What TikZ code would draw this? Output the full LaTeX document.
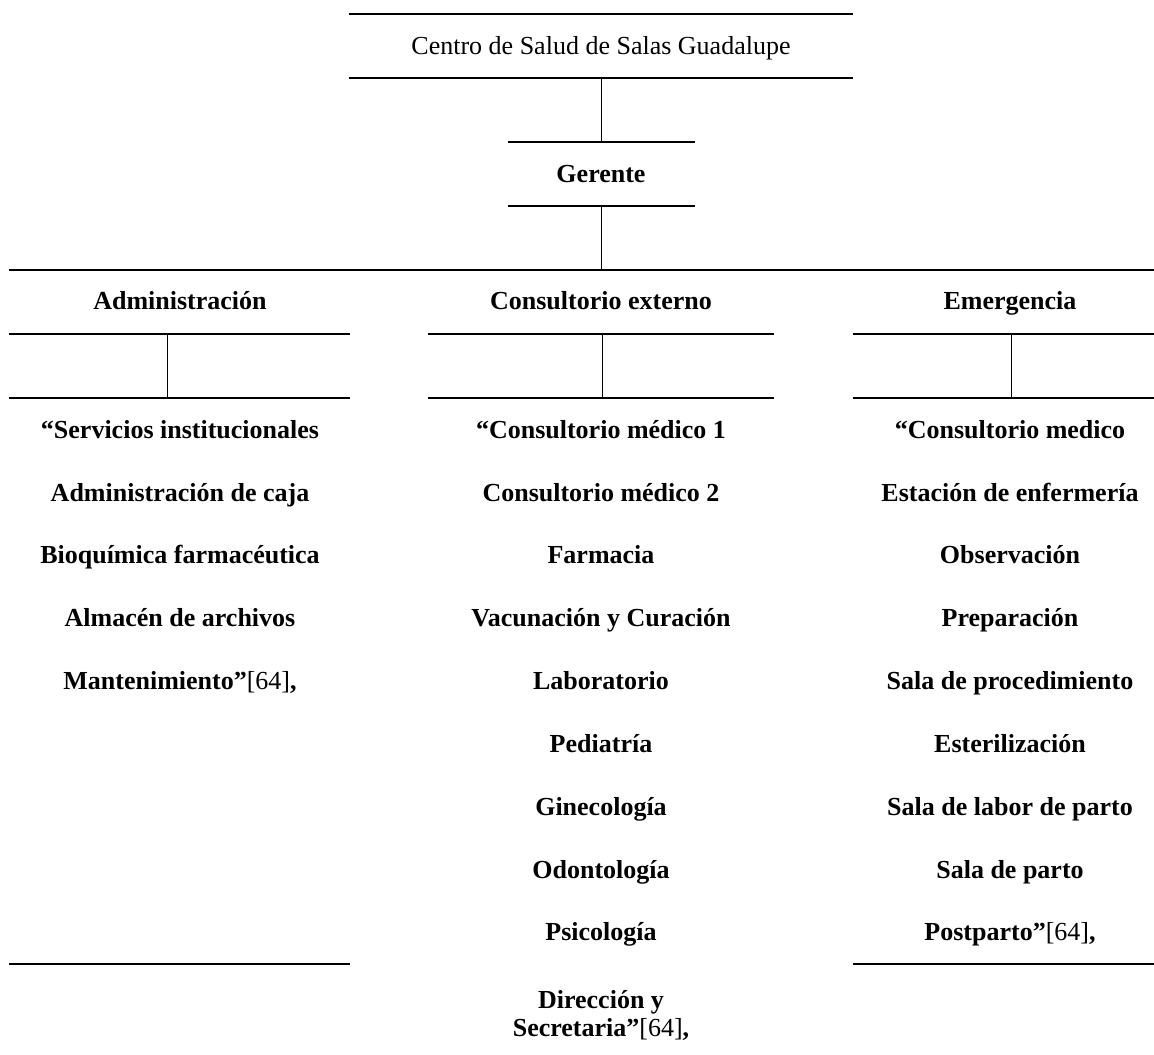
\documentclass[tikz,border=0pt]{standalone}
\usepackage{fontspec}
\setmainfont{Liberation Serif}
\begin{document}
\begin{tikzpicture}[x=0.75pt,y=-0.75pt,
  hrule/.style={line width=1.5pt},
  vrule/.style={line width=0.75pt},
  lbl/.style={anchor=base,inner sep=0pt,font=\fontsize{19.5}{21}\selectfont\bfseries},
  ttl/.style={anchor=base,inner sep=0pt,font=\fontsize{19.5}{21}\selectfont}]
\useasboundingbox (0,0) rectangle (1154,1055);
% ---------- top box: centre
\coordinate (c-tl) at (349,14);  \coordinate (c-tr) at (853,14);
\coordinate (c-bl) at (349,78);  \coordinate (c-br) at (853,78);
\coordinate (c-bot) at (601,78);
\node[ttl] (centro) at (601,55) {Centro de Salud de Salas Guadalupe};
\draw[hrule] (c-tl) -- (c-tr);
\draw[hrule] (c-bl) -- (c-br);
% ---------- gerente
\coordinate (g-tl) at (508,142); \coordinate (g-tr) at (695,142);
\coordinate (g-bl) at (508,206); \coordinate (g-br) at (695,206);
\coordinate (g-top) at (601,142); \coordinate (g-bot) at (601,206);
\node[lbl] (gerente) at (601,183) {Gerente};
\draw[hrule] (g-tl) -- (g-tr);
\draw[hrule] (g-bl) -- (g-br);
\draw[vrule] (c-bot) -- (g-top);
% ---------- departments
\coordinate (d-l) at (9,270); \coordinate (d-r) at (1154,270);
\coordinate (d-top) at (601,270);
\draw[hrule] (d-l) -- (d-r);
\draw[vrule] (g-bot) -- (d-top);
\node[lbl] (adm) at (180,310) {Administración};
\node[lbl] (cons) at (601,310) {Consultorio externo};
\node[lbl] (emer) at (1010,310) {Emergencia};
% column rules
\foreach \n/\xa/\xb/\xv in {adm/9/350/167, cons/428/774/602, emer/853/1154/1011}{
  \coordinate (\n-ul) at (\xa,334); \coordinate (\n-ur) at (\xb,334);
  \coordinate (\n-ll) at (\xa,398); \coordinate (\n-lr) at (\xb,398);
  \coordinate (\n-vt) at (\xv,334); \coordinate (\n-vb) at (\xv,398);
  \draw[hrule] (\n-ul) -- (\n-ur);
  \draw[hrule] (\n-ll) -- (\n-lr);
  \draw[vrule] (\n-vt) -- (\n-vb);
}
% bottom rules
\coordinate (adm-el) at (9,964); \coordinate (adm-er) at (350,964);
\coordinate (emer-el) at (853,964); \coordinate (emer-er) at (1154,964);
\draw[hrule] (adm-el) -- (adm-er);
\draw[hrule] (emer-el) -- (emer-er);
% ---------- items
\foreach \t [count=\i] in {{“Servicios institucionales},{Administración de caja},{Bioquímica farmacéutica},{Almacén de archivos},{Mantenimiento”\textnormal{[64]},}}
  \node[lbl] (a\i) at (180,{438.4+62.8*(\i-1)}) {\t};
\foreach \t [count=\i] in {{“Consultorio médico 1},{Consultorio médico 2},{Farmacia},{Vacunación y Curación},{Laboratorio},{Pediatría},{Ginecología},{Odontología},{Psicología}}
  \node[lbl] (b\i) at (601,{438.4+62.8*(\i-1)}) {\t};
\node[lbl,align=center,anchor=base] (b10) at (601,1036) {Dirección y\\Secretaria”\textnormal{[64]},};
\foreach \t [count=\i] in {{“Consultorio medico},{Estación de enfermería},{Observación},{Preparación},{Sala de procedimiento},{Esterilización},{Sala de labor de parto},{Sala de parto},{Postparto”\textnormal{[64]},}}
  \node[lbl] (e\i) at (1010,{438.4+62.8*(\i-1)}) {\t};
\end{tikzpicture}
\end{document}
